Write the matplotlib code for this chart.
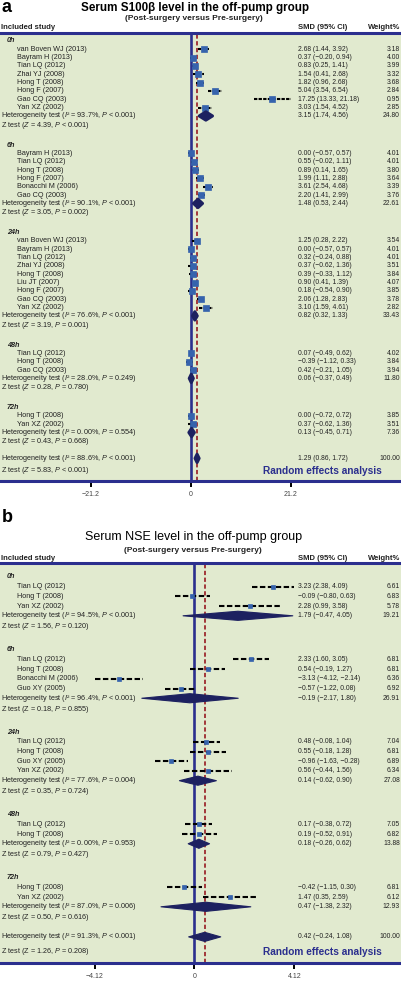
import matplotlib.pyplot as plt
import numpy as np

plt.rcParams['font.family'] = ['Liberation Sans', 'DejaVu Sans']
plt.rcParams['mathtext.fontset'] = 'custom'
plt.rcParams['mathtext.rm'] = 'Liberation Sans'
plt.rcParams['mathtext.it'] = 'Liberation Sans:italic'
plt.rcParams['mathtext.bf'] = 'Liberation Sans:bold'

# ---------------- panel a : S100b ----------------
a_groups = ['0h', '6h', '24h', '48h', '72h']
a_studies = [
    ['van Boven WJ (2013)', 'Bayram H (2013)', 'Tian LQ (2012)', 'Zhai YJ (2008)',
     'Hong T (2008)', 'Hong F (2007)', 'Gao CQ (2003)', 'Yan XZ (2002)'],
    ['Bayram H (2013)', 'Tian LQ (2012)', 'Hong T (2008)', 'Hong F (2007)',
     'Bonacchi M (2006)', 'Gao CQ (2003)'],
    ['van Boven WJ (2013)', 'Bayram H (2013)', 'Tian LQ (2012)', 'Zhai YJ (2008)',
     'Hong T (2008)', 'Liu JT (2007)', 'Hong F (2007)', 'Gao CQ (2003)', 'Yan XZ (2002)'],
    ['Tian LQ (2012)', 'Hong T (2008)', 'Gao CQ (2003)'],
    ['Hong T (2008)', 'Yan XZ (2002)'],
]
a_smd = [[2.68, 0.37, 0.83, 1.54, 1.82, 5.04, 17.25, 3.03],
         [0.00, 0.55, 0.89, 1.99, 3.61, 2.20],
         [1.25, 0.00, 0.32, 0.37, 0.39, 0.90, 0.18, 2.06, 3.10],
         [0.07, -0.39, 0.42],
         [0.00, 0.37]]
a_lo = [[1.44, -0.20, 0.25, 0.41, 0.96, 3.54, 13.33, 1.54],
        [-0.57, -0.02, 0.14, 1.11, 2.54, 1.41],
        [0.28, -0.57, -0.24, -0.62, -0.33, 0.41, -0.54, 1.28, 1.59],
        [-0.49, -1.12, -0.21],
        [-0.72, -0.62]]
a_hi = [[3.92, 0.94, 1.41, 2.68, 2.68, 6.54, 21.18, 4.52],
        [0.57, 1.11, 1.65, 2.88, 4.68, 2.99],
        [2.22, 0.57, 0.88, 1.36, 1.12, 1.39, 0.90, 2.83, 4.61],
        [0.62, 0.33, 1.05],
        [0.72, 1.36]]
a_weight = [[3.18, 4.00, 3.99, 3.32, 3.68, 2.84, 0.95, 2.85],
            [4.01, 4.01, 3.80, 3.64, 3.39, 3.76],
            [3.54, 4.01, 4.01, 3.51, 3.84, 4.07, 3.85, 3.78, 2.82],
            [4.02, 3.84, 3.94],
            [3.85, 3.51]]
a_pool = [3.15, 1.48, 0.82, 0.06, 0.13]
a_pool_lo = [1.74, 0.53, 0.32, -0.37, -0.45]
a_pool_hi = [4.56, 2.44, 1.33, 0.49, 0.71]
a_pool_w = [24.80, 22.61, 33.43, 11.80, 7.36]
a_i2 = ['93.7%', '90.1%', '76.6%', '28.0%', '0.00%']
a_i2_p = ['< 0.001', '< 0.001', '< 0.001', '= 0.249', '= 0.554']
a_z = ['4.39', '3.05', '3.19', '0.28', '0.43']
a_z_p = ['< 0.001', '= 0.002', '= 0.001', '= 0.780', '= 0.668']
a_z_italic = [True, True, True, True, True]
a_overall = [1.29, 0.86, 1.72, 100.00]
a_overall_i2 = ['88.6%', '< 0.001']
a_overall_z = ['5.83', '< 0.001', True]
a_ticks = [-21.2, 0, 21.2]
a_ticklabels = ['−21.2', '0', '21.2']

# ---------------- panel b : NSE ----------------
b_groups = ['0h', '6h', '24h', '48h', '72h']
b_studies = [
    ['Tian LQ (2012)', 'Hong T (2008)', 'Yan XZ (2002)'],
    ['Tian LQ (2012)', 'Hong T (2008)', 'Bonacchi M (2006)', 'Guo XY (2005)'],
    ['Tian LQ (2012)', 'Hong T (2008)', 'Guo XY (2005)', 'Yan XZ (2002)'],
    ['Tian LQ (2012)', 'Hong T (2008)'],
    ['Hong T (2008)', 'Yan XZ (2002)'],
]
b_smd = [[3.23, -0.09, 2.28],
         [2.33, 0.54, -3.13, -0.57],
         [0.48, 0.55, -0.96, 0.56],
         [0.17, 0.19],
         [-0.42, 1.47]]
b_lo = [[2.38, -0.80, 0.99],
        [1.60, -0.19, -4.12, -1.22],
        [-0.08, -0.18, -1.63, -0.44],
        [-0.38, -0.52],
        [-1.15, 0.35]]
b_hi = [[4.09, 0.63, 3.58],
        [3.05, 1.27, -2.14, 0.08],
        [1.04, 1.28, -0.28, 1.56],
        [0.72, 0.91],
        [0.30, 2.59]]
b_weight = [[6.61, 6.83, 5.78],
            [6.81, 6.81, 6.36, 6.92],
            [7.04, 6.81, 6.89, 6.34],
            [7.05, 6.82],
            [6.81, 6.12]]
b_pool = [1.79, -0.19, 0.14, 0.18, 0.47]
b_pool_lo = [-0.47, -2.17, -0.62, -0.26, -1.38]
b_pool_hi = [4.05, 1.80, 0.90, 0.62, 2.32]
b_pool_w = [19.21, 26.91, 27.08, 13.88, 12.93]
b_i2 = ['94.5%', '96.4%', '77.6%', '0.00%', '87.0%']
b_i2_p = ['< 0.001', '< 0.001', '= 0.004', '= 0.953', '= 0.006']
b_z = ['1.56', '0.18', '0.35', '0.79', '0.50']
b_z_p = ['= 0.120', '= 0.855', '= 0.724', '= 0.427', '= 0.616']
b_z_italic = [True, False, False, False, False]
b_overall = [0.42, -0.24, 1.08, 100.00]
b_overall_i2 = ['91.3%', '< 0.001']
b_overall_z = ['1.26', '= 0.208', False]
b_ticks = [-4.12, 0, 4.12]
b_ticklabels = ['−4.12', '0', '4.12']

W, H = 402, 983
NAVY = '#2b2f8e'
DIAM = '#1d2160'
SQ = '#3663ad'
RED = '#a2383a'
GREEN = '#e1eacf'
TXT = '#222222'
FS = 5.2    # left column
FSN = 4.9   # number columns


def fmt(v):
    return f'{v:.2f}'.replace('-', '−')


def het_text(i2, p):
    # unicode superscript keeps the line as low as a plain text line
    return r'Heterogeneity test ($\mathit{I}$² = ' + i2 + r', $\mathit{P}$ ' + p + ')'


def z_text(z, p, it):
    zz = r'$\mathit{Z}$' if it else 'Z'
    return 'Z test (' + zz + ' = ' + z + r', $\mathit{P}$ ' + p + ')'


def draw_panel(ax, groups, studies, smd, lo, hi, wt, pool, plo, phi, pw, i2, i2p, z, zp, zit,
               overall, o_i2, o_z, ticks, ticklabels, ms, dh, dash, elw):
    tr = ax.get_yaxis_transform()
    ax.set_facecolor(GREEN)
    ax.axvline(0, color=NAVY, lw=1.9, zorder=2)
    ax.axvline(overall[0], color=RED, lw=1.4, ls=(0, (2.2, 1.3)), zorder=2)

    def row_text(r, left, x0, smd_s=None, w_s=None, **kw):
        ax.text(x0 / W, r, left, transform=tr, va='center', ha='left', fontsize=FS, color=TXT, **kw)
        if smd_s is not None:
            ax.text(298 / W, r, smd_s, transform=tr, va='center', ha='left', fontsize=FSN, color=TXT)
            ax.text(400 / W, r, w_s, transform=tr, va='center', ha='right', fontsize=FSN, color=TXT)

    def diamond(r, m, l, h):
        ax.fill([l, m, h, m], [r, r - dh, r, r + dh], color=DIAM, ec=DIAM, lw=elw,
                joinstyle='round', zorder=4)

    r = 0
    for k, g in enumerate(groups):
        row_text(r, g, 7, fontweight='bold', style='italic')
        for j, name in enumerate(studies[k]):
            rr = r + 1 + j
            row_text(rr, name, 17, fmt(smd[k][j]) + ' (' + fmt(lo[k][j]) + ', ' + fmt(hi[k][j]) + ')',
                     f'{wt[k][j]:.2f}')
            ax.plot([lo[k][j], hi[k][j]], [rr, rr], color='black', lw=1.5, ls=(0, dash),
                    dash_capstyle='butt', zorder=3)
            ax.plot(smd[k][j], rr, 's', color=SQ, ms=ms, mec=SQ, mew=0.5, zorder=4)
        rh = r + 1 + len(studies[k])
        row_text(rh, het_text(i2[k], i2p[k]), 1,
                 fmt(pool[k]) + ' (' + fmt(plo[k]) + ', ' + fmt(phi[k]) + ')', f'{pw[k]:.2f}')
        diamond(rh, pool[k], plo[k], phi[k])
        row_text(rh + 1.12, z_text(z[k], zp[k], zit[k]), 1)
        r = rh + 1 + 2.5
    ro = r - 2.5 + 2.1
    row_text(ro, het_text(o_i2[0], o_i2[1]), 1,
             fmt(overall[0]) + ' (' + fmt(overall[1]) + ', ' + fmt(overall[2]) + ')',
             f'{overall[3]:.2f}')
    diamond(ro, overall[0], overall[1], overall[2])
    row_text(ro + 1.5, z_text(o_z[0], o_z[1], o_z[2]), 1)
    ax.text(382 / W, ro + 1.55, 'Random effects analysis', transform=tr, va='center', ha='right',
            fontsize=7.3, fontweight='bold', color=NAVY)

    for s in ['left', 'right']:
        ax.spines[s].set_visible(False)
    for s in ['top', 'bottom']:
        ax.spines[s].set_color(NAVY)
        ax.spines[s].set_linewidth(2.2)
    ax.set_yticks([])
    ax.set_xticks(ticks)
    ax.set_xticklabels(ticklabels)
    ax.tick_params(axis='x', direction='out', length=4.5, width=1.4, color='black',
                   labelsize=5, labelcolor='#444444', pad=3)


fig = plt.figure(figsize=(W / 100, H / 100), dpi=100)


def px_axes(top, bottom):
    return fig.add_axes([0, 1 - bottom / H, 1, (bottom - top) / H])


# panel a geometry (pixels)
y0a, sa = 41, 8.33
ax_a = px_axes(33, 481)
ax_a.set_xlim(-191 / 4.717, (W - 191) / 4.717)
ax_a.set_ylim((481 - y0a) / sa, (33 - y0a) / sa)
draw_panel(ax_a, a_groups, a_studies, a_smd, a_lo, a_hi, a_weight, a_pool, a_pool_lo, a_pool_hi,
           a_pool_w, a_i2, a_i2_p, a_z, a_z_p, a_z_italic, a_overall, a_overall_i2, a_overall_z,
           a_ticks, a_ticklabels, ms=4.4, dh=0.5, dash=(1.6, 0.6), elw=2.2)

# panel b geometry (pixels)
y0b, sb = 577, 9.7
ax_b = px_axes(563, 963)
ax_b.set_xlim(-194.5 / 24.27, (W - 194.5) / 24.27)
ax_b.set_ylim((963 - y0b) / sb, (563 - y0b) / sb)
draw_panel(ax_b, b_groups, b_studies, b_smd, b_lo, b_hi, b_weight, b_pool, b_pool_lo, b_pool_hi,
           b_pool_w, b_i2, b_i2_p, b_z, b_z_p, b_z_italic, b_overall, b_overall_i2, b_overall_z,
           b_ticks, b_ticklabels, ms=3.4, dh=0.47, dash=(2.6, 1.2), elw=0.8)


def ftext(x, y, s, **kw):
    fig.text(x / W, 1 - y / H, s, va='baseline', **kw)


# headers
ftext(2, 12, 'a', fontsize=13, fontweight='bold', ha='left')
ftext(195, 10.5, 'Serum S100β level in the off-pump group', fontsize=8.4, fontweight='bold',
      ha='center')
ftext(194, 19.5, '(Post-surgery versus Pre-surgery)', fontsize=6, fontweight='bold',
      ha='center', color=TXT)
ftext(2, 522, 'b', fontsize=13, fontweight='bold', ha='left')
ftext(193.5, 540, 'Serum NSE level in the off-pump group', fontsize=9, ha='center')
ftext(193, 551.5, '(Post-surgery versus Pre-surgery)', fontsize=6, fontweight='bold',
      ha='center', color=TXT)
for yy in [29, 560.5]:
    ftext(1, yy, 'Included study', fontsize=5.5, fontweight='bold', ha='left', color=TXT)
    ftext(298, yy, 'SMD (95% CI)', fontsize=5.5, fontweight='bold', ha='left', color=TXT)
    ftext(400, yy, 'Weight%', fontsize=5.5, fontweight='bold', ha='right', color=TXT)

fig.savefig('out.png', dpi=100, facecolor='white')
